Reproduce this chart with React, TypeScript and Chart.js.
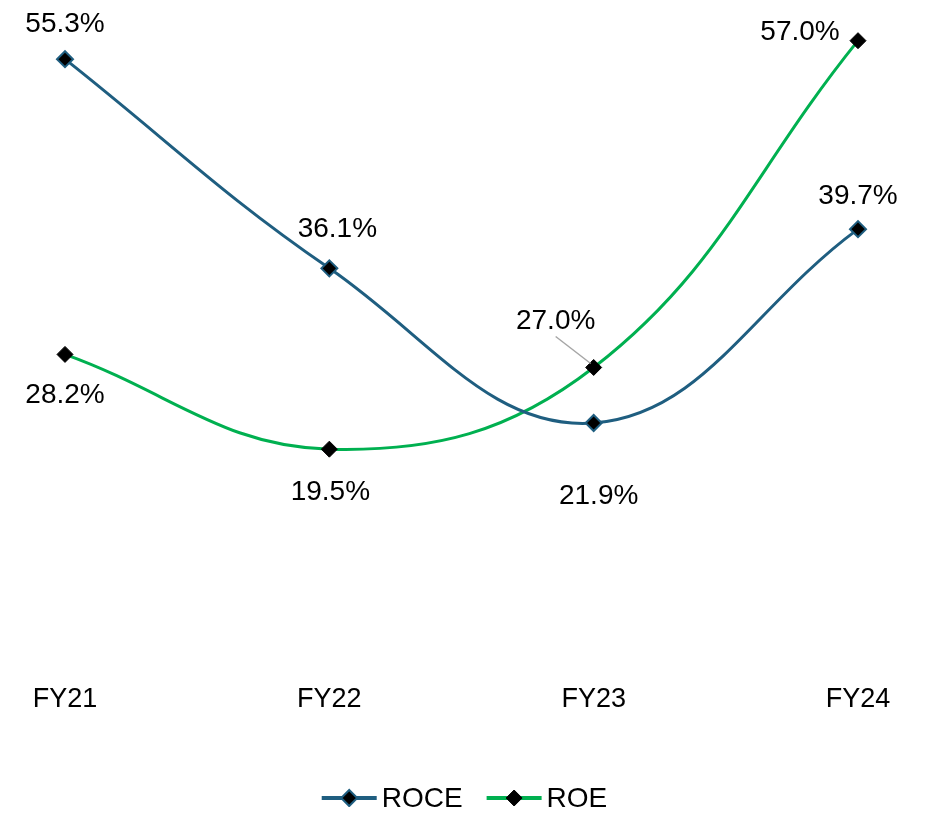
import React, { useEffect, useRef } from "react";
import { Chart, registerables } from "chart.js";

Chart.register(...registerables);

const categories = ["FY21", "FY22", "FY23", "FY24"];
const roceValues = [55.3, 36.1, 21.9, 39.7];
const roeValues = [28.2, 19.5, 27.0, 57.0];
const seriesNames = ["ROCE", "ROE"];

// label placement relative to each point (pixels)
const roceLabelOffsets = [[0, -35], [8, -39], [5, 73], [0, -33]];
const roeLabelOffsets = [[0, 41], [1, 43], [-38, -46], [-58, -8]];
const roeLeaderIndex = 2;

const FONT = "'Liberation Sans', Arial, sans-serif";
const BLUE = "#1F5E80";
const GREEN = "#00B050";

const labelPlugin = {
  id: "valueLabels",
  afterDatasetsDraw(chart: any) {
    const ctx = chart.ctx;
    ctx.save();
    ctx.font = `28px ${FONT}`;
    ctx.fillStyle = "#000";
    ctx.textAlign = "center";
    ctx.textBaseline = "middle";
    const offs = [roceLabelOffsets, roeLabelOffsets];
    chart.data.datasets.forEach((ds: any, di: number) => {
      const meta = chart.getDatasetMeta(di);
      meta.data.forEach((pt: any, i: number) => {
        const [dx, dy] = offs[di][i];
        ctx.fillText(ds.data[i].toFixed(1) + "%", pt.x + dx, pt.y + dy);
        if (di === 1 && i === roeLeaderIndex) {
          ctx.strokeStyle = "#A6A6A6";
          ctx.lineWidth = 1.5;
          ctx.beginPath();
          ctx.moveTo(pt.x + dx, pt.y + dy + 15);
          ctx.lineTo(pt.x - 3, pt.y - 4);
          ctx.stroke();
        }
      });
    });
    ctx.restore();
  },
};

const legendPlugin = {
  id: "customLegend",
  afterDraw(chart: any) {
    const ctx = chart.ctx;
    ctx.save();
    ctx.font = `28px ${FONT}`;
    ctx.textBaseline = "middle";
    ctx.textAlign = "left";
    const lineLen = 55;
    const gap = 5;
    const spacing = 24;
    const items = chart.data.datasets.map((ds: any) => ({
      ds,
      w: lineLen + gap + ctx.measureText(ds.label).width,
    }));
    const total = items.reduce((s: number, it: any) => s + it.w, 0) + spacing * (items.length - 1);
    let x = chart.width / 2 - total / 2;
    const y = 790;
    items.forEach((it: any) => {
      const ds = it.ds;
      ctx.strokeStyle = ds.borderColor;
      ctx.lineWidth = 4;
      ctx.beginPath();
      ctx.moveTo(x, y);
      ctx.lineTo(x + lineLen, y);
      ctx.stroke();
      const cx = x + lineLen / 2;
      const r = 8;
      ctx.beginPath();
      ctx.moveTo(cx, y - r);
      ctx.lineTo(cx + r, y);
      ctx.lineTo(cx, y + r);
      ctx.lineTo(cx - r, y);
      ctx.closePath();
      ctx.fillStyle = "#000";
      ctx.fill();
      ctx.strokeStyle = ds.pointBorderColor;
      ctx.lineWidth = ds.pointBorderWidth;
      ctx.stroke();
      ctx.fillStyle = "#000";
      ctx.fillText(ds.label, x + lineLen + gap, y + 1);
      x += it.w + spacing;
    });
    ctx.restore();
  },
};

export default function App() {
  const ref = useRef<HTMLCanvasElement>(null);
  useEffect(() => {
    if (!ref.current) return;
    const chart = new Chart(ref.current, {
      type: "line",
      data: {
        labels: categories,
        datasets: [
          {
            label: seriesNames[0],
            data: roceValues,
            borderColor: BLUE,
            borderWidth: 3,
            tension: 0.4,
            pointStyle: "rectRot",
            pointRadius: 8,
            pointHoverRadius: 8,
            pointBackgroundColor: "#000",
            pointBorderColor: BLUE,
            pointBorderWidth: 2,
            clip: false,
          },
          {
            label: seriesNames[1],
            data: roeValues,
            borderColor: GREEN,
            borderWidth: 3,
            tension: 0.4,
            pointStyle: "rectRot",
            pointRadius: 8,
            pointHoverRadius: 8,
            pointBackgroundColor: "#000",
            pointBorderColor: "#000",
            pointBorderWidth: 1,
            clip: false,
          },
        ],
      },
      options: {
        animation: false,
        responsive: true,
        maintainAspectRatio: false,
        layout: { autoPadding: false, padding: { left: 57, right: 63, top: 0, bottom: 86 } },
        scales: {
          x: {
            grid: { display: false },
            border: { display: false },
            ticks: {
              font: { size: 27, family: FONT },
              color: "#000",
              padding: 13.5,
              maxRotation: 0,
            },
          },
          y: { display: false, min: 0, max: 60 },
        },
        plugins: {
          legend: { display: false },
          tooltip: { enabled: false },
        },
      },
      plugins: [labelPlugin, legendPlugin],
    });
    return () => chart.destroy();
  }, []);
  return (
    <div style={{ width: 913, height: 807, marginBottom: -8, position: "relative" }}>
      <canvas ref={ref} />
    </div>
  );
}
